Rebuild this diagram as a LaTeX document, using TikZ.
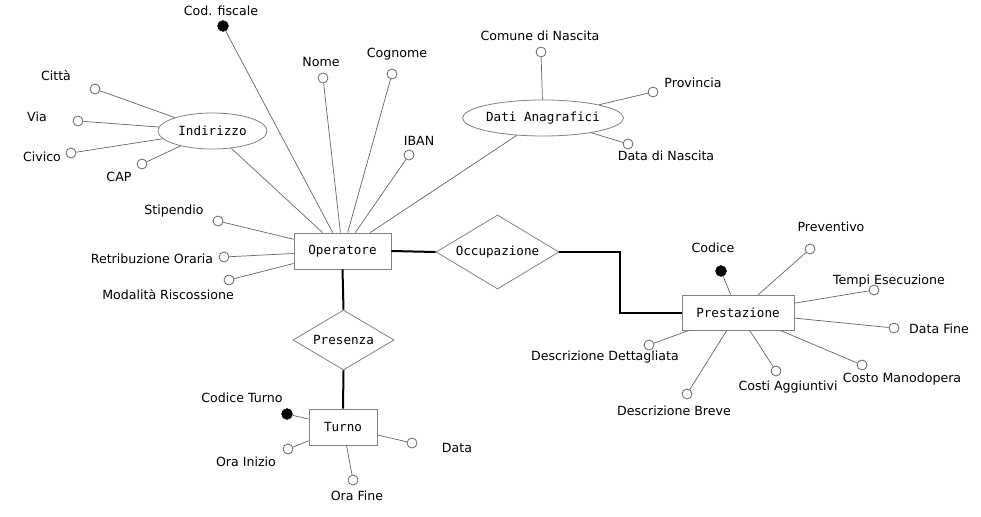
\documentclass[tikz,border=0pt]{standalone}
\usepackage{fontspec}
\setmainfont{DejaVu Sans}
\setmonofont{DejaVu Sans Mono}
\usetikzlibrary{shapes.geometric}
\definecolor{lg}{HTML}{666666}
\definecolor{bg}{HTML}{808080}
\tikzset{
  lbl/.style={font=\fontsize{12.6}{15}\selectfont, inner sep=0pt},
  attr/.style={circle, draw=lg, fill=white, line width=0.8pt, minimum size=10pt, inner sep=0pt},
  keyattr/.style={circle, fill=black, draw=black, minimum size=11pt, inner sep=0pt},
  entity/.style={rectangle, draw=bg, line width=0.8pt, inner sep=0pt, font=\ttfamily\fontsize{12.6}{15}\selectfont},
  compound/.style={ellipse, draw=bg, line width=0.8pt, inner sep=0pt, font=\ttfamily\fontsize{12.6}{15}\selectfont},
  rel/.style={diamond, draw=bg, line width=0.8pt, inner sep=0pt, font=\ttfamily\fontsize{12.6}{15}\selectfont},
  conn/.style={draw=lg, line width=0.7pt},
  heavy/.style={draw=black, line width=2pt}
}
\begin{document}
\begin{tikzpicture}[x=1pt,y=-1pt]
\useasboundingbox (0,0) rectangle (981,516);
% entities
\node[entity, minimum width=97pt, minimum height=36pt] (op) at (342.5,251) {Operatore};
\node[entity, minimum width=112pt, minimum height=35pt] (prest) at (738,312.5) {Prestazione};
\node[entity, minimum width=68pt, minimum height=36pt] (turno) at (343,427) {Turno};
\node[compound, minimum width=109pt, minimum height=36pt] (ind) at (212.5,131) {Indirizzo};
\node[compound, minimum width=156pt, minimum height=36pt] (dati) at (543,118) {Dati Anagrafici};
\node[rel, minimum width=123pt, minimum height=74pt, aspect=1.66] (occ) at (497.5,252) {Occupazione};
\node[rel, minimum width=101pt, minimum height=60pt, aspect=1.68] (pres) at (343.5,340) {Presenza};

% relationships
\draw[heavy] (op.east) -- (occ.west);
\draw[heavy] (occ.east) -- ++(61,0) |- (prest.west);
\draw[heavy] (op.south) -- (pres.north);
\draw[heavy] (pres.south) -- (turno.north);

% Operatore attributes
\node[keyattr] (cf) at (223,26) {};
\node[attr] (nome) at (323,78) {};
\node[attr] (cogn) at (392,74) {};
\node[attr] (iban) at (409,155) {};
\node[attr] (stip) at (218,221) {};
\node[attr] (retr) at (224,257) {};
\node[attr] (moda) at (229,280) {};
\draw[conn] (cf) -- (op);
\draw[conn] (nome) -- (op);
\draw[conn] (cogn) -- (op);
\draw[conn] (iban) -- (op);
\draw[conn] (ind) -- (op);
\draw[conn] (dati) -- (op);
\draw[conn] (stip) -- (op);
\draw[conn] (retr) -- (op);
\draw[conn] (moda) -- (op);
\node[lbl] (lcf) at (221,11) {Cod. fiscale};
\node[lbl] (lnome) at (321,62) {Nome};
\node[lbl] (lcogn) at (397,54) {Cognome};
\node[lbl] (liban) at (419,141) {IBAN};
\node[lbl] (lstip) at (174,211) {Stipendio};
\node[lbl] (lretr) at (152,259) {Retribuzione Oraria};
\node[lbl] (lmoda) at (168,295) {Modalità Riscossione};

% Indirizzo attributes
\node[attr] (citta) at (95,89) {};
\node[attr] (via) at (78,121) {};
\node[attr] (civ) at (71,153) {};
\node[attr] (cap) at (142,164) {};
\draw[conn] (citta) -- (ind);
\draw[conn] (via) -- (ind);
\draw[conn] (civ) -- (ind);
\draw[conn] (cap) -- (ind);
\node[lbl] (lcitta) at (56,76) {Città};
\node[lbl] (lvia) at (37,117) {Via};
\node[lbl] (lciv) at (42,157) {Civico};
\node[lbl] (lcap) at (119,177) {CAP};

% Dati Anagrafici attributes
\node[attr] (com) at (541,52) {};
\node[attr] (prov) at (653,92) {};
\node[attr] (dnas) at (628,144) {};
\draw[conn] (com) -- (dati);
\draw[conn] (prov) -- (dati);
\draw[conn] (dnas) -- (dati);
\node[lbl] (lcom) at (540,36) {Comune di Nascita};
\node[lbl] (lprov) at (693,83) {Provincia};
\node[lbl] (ldnas) at (666,156) {Data di Nascita};

% Prestazione attributes
\node[keyattr] (cod) at (721,271) {};
\node[attr] (prev) at (810,249) {};
\node[attr] (tempi) at (874,290) {};
\node[attr] (dfine) at (894,328) {};
\node[attr] (cman) at (862,365) {};
\node[attr] (cagg) at (776,371) {};
\node[attr] (dbrev) at (687,394) {};
\node[attr] (ddett) at (649,345) {};
\draw[conn] (cod) -- (prest);
\draw[conn] (prev) -- (prest);
\draw[conn] (tempi) -- (prest);
\draw[conn] (dfine) -- (prest);
\draw[conn] (cman) -- (prest);
\draw[conn] (cagg) -- (prest);
\draw[conn] (dbrev) -- (prest);
\draw[conn] (ddett) -- (prest);
\node[lbl] (lcod) at (713,248) {Codice};
\node[lbl] (lprev) at (831,227) {Preventivo};
\node[lbl] (ltempi) at (889,281) {Tempi Esecuzione};
\node[lbl] (ldfine) at (939,329) {Data Fine};
\node[lbl] (lcman) at (902,379) {Costo Manodopera};
\node[lbl] (lcagg) at (788,387) {Costi Aggiuntivi};
\node[lbl] (ldbrev) at (674,411) {Descrizione Breve};
\node[lbl] (lddett) at (605,357) {Descrizione Dettagliata};

% Turno attributes
\node[keyattr] (ct) at (287,414) {};
\node[attr] (oin) at (288,449) {};
\node[attr] (ofi) at (353,480) {};
\node[attr] (dt) at (412,443) {};
\draw[conn] (ct) -- (turno);
\draw[conn] (oin) -- (turno);
\draw[conn] (ofi) -- (turno);
\draw[conn] (dt) -- (turno);
\node[lbl] (lct) at (242,398) {Codice Turno};
\node[lbl] (loin) at (246,462) {Ora Inizio};
\node[lbl] (lofi) at (357,496) {Ora Fine};
\node[lbl] (ldt) at (457,448) {Data};
\end{tikzpicture}
\end{document}
